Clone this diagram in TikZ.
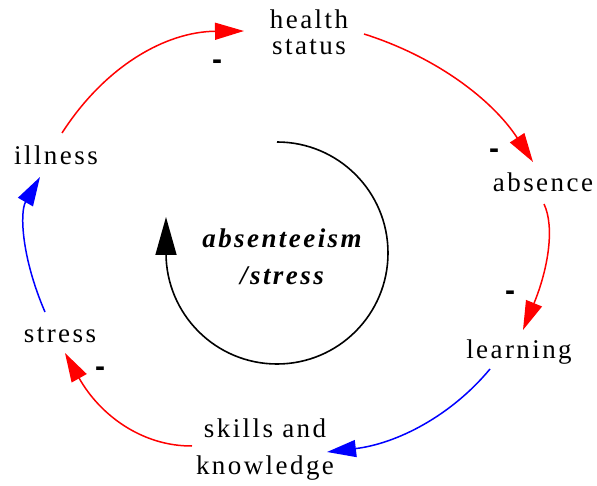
\documentclass[tikz,border=0pt]{standalone}
\usepackage{fontspec}
\setmainfont{Liberation Serif}[LetterSpace=9]
\setsansfont{Liberation Sans}
\usetikzlibrary{arrows.meta}
\definecolor{negred}{RGB}{255,0,0}
\definecolor{posblue}{RGB}{0,0,255}

\begin{document}
\begin{tikzpicture}[x=1pt,y=-1pt,
  var/.style={inner sep=0pt, font=\fontsize{27}{26}\selectfont},
  sign/.style={inner sep=0pt, font=\sffamily\bfseries\fontsize{30}{30}\selectfont},
  link/.style={line width=1.5pt},
  neglink/.style={link, draw=negred, arrows={-{Triangle[length=29pt,width=17pt,fill=negred]}}},
  poslink/.style={link, draw=posblue, arrows={-{Triangle[length=29pt,width=17pt,fill=posblue]}}},
  looparrow/.style={line width=1.6pt, -{Triangle[length=38pt,width=21pt]}},
  looplabel/.style={inner sep=0pt, align=center,
    font=\bfseries\itshape\fontsize{27}{37}\selectfont}
]
\useasboundingbox (0,0) rectangle (597,486);

% variables of the loop
\node[var, anchor=center, align=center] (health) at (309,32) {health\\status};
\node[var, anchor=base] (absence) at (543,192) {absence};
\node[var, anchor=base] (learning) at (519,359) {learning};
\node[var, anchor=center, align=center, font=\fontsize{27}{37}\selectfont]
  (skills) at (265,450) {skills and\\knowledge};
\node[var, anchor=base] (stress) at (60,342) {stress};
\node[var, anchor=base] (illness) at (56,165) {illness};

% causal links
\draw[neglink] ([shift={(6,-32)}]illness.base)
  .. controls (105.3,65.7) and (166,31.7) .. ([shift={(-65,-1)}]health.center);
\draw[neglink] ([shift={(55,2)}]health.center)
  .. controls (435.7,56.7) and (492,99.3) .. ([shift={(-10,-30)}]absence.base);
\draw[neglink] ([shift={(1,12)}]absence.base)
  .. controls (555,227.3) and (548,269.3) .. ([shift={(4,-29)}]learning.base);
\draw[poslink] ([shift={(-29,10)}]learning.base)
  .. controls (451,416) and (396.7,443.7) .. ([shift={(62,2)}]skills.center);
\draw[neglink] ([shift={(-73,-4)}]skills.center)
  .. controls (142.3,446.3) and (100,415.3) .. ([shift={(5,11)}]stress.base);
\draw[poslink] ([shift={(-15,-30)}]stress.base)
  .. controls (21.3,257) and (19.7,212) .. ([shift={(-16,12)}]illness.base);

% polarity marks
\node[sign] (m1) at (217,65) {-};
\node[sign] (m2) at (494,154) {-};
\node[sign] (m3) at (510,296) {-};
\node[sign] (m4) at (100,372) {-};

% loop identifier
\node[looplabel] (loopname) at (282,257) {absenteeism\\/stress};
\draw[looparrow] (277,142) arc[start angle=-90, end angle=180, radius=111] -- ++(0,-36);
\end{tikzpicture}
\end{document}
